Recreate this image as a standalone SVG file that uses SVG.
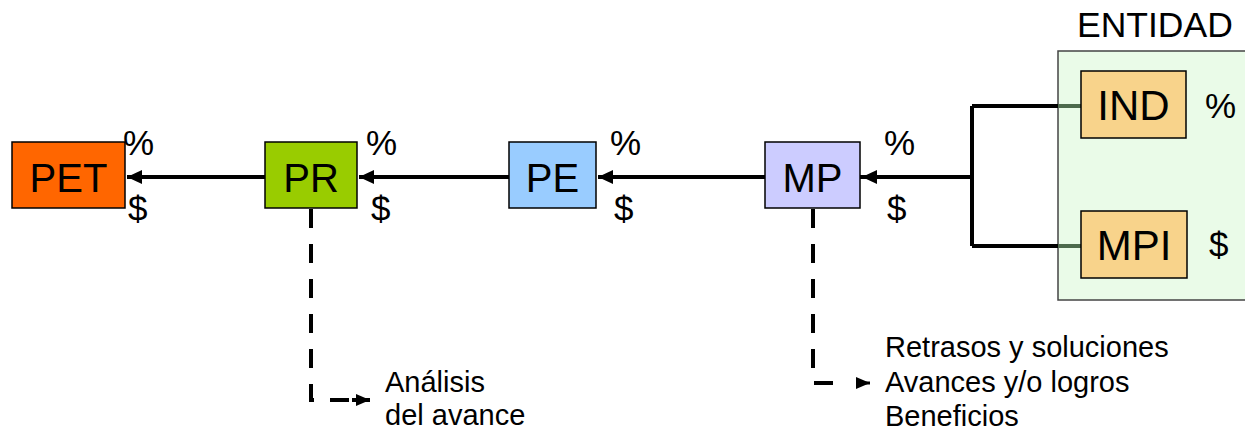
<svg xmlns="http://www.w3.org/2000/svg" width="1245" height="431" viewBox="0 0 1245 431">
<style>
text{font-family:"Liberation Sans",Arial,sans-serif;fill:#000}
.box{stroke:#000;stroke-width:1.5}
.lbl{font-size:40px;text-anchor:middle}
.sym{font-size:35px}
.note{font-size:29px}
.ln{fill:none;stroke:#000;stroke-width:4}
.dash{fill:none;stroke:#000;stroke-width:4;stroke-dasharray:19 16}
</style>
<defs>
<marker id="ah" markerWidth="15" markerHeight="14" refX="15" refY="7" orient="auto" markerUnits="userSpaceOnUse">
<path d="M0,0 L15,7 L0,14 Z" fill="#000"/>
</marker>
<marker id="ahs" markerWidth="14" markerHeight="12" refX="14" refY="6" orient="auto" markerUnits="userSpaceOnUse">
<path d="M0,0 L14,6 L0,12 Z" fill="#000"/>
</marker>
</defs>
<g id="entidad">
<rect x="1058" y="51" width="200" height="249" fill="#EAFBE8" stroke="#444" stroke-width="1.5"/>
<text x="1077" y="37" style="font-size:35.5px">ENTIDAD</text>
</g>
<g id="connectors">
<path class="ln" d="M860,177 H972 M972,106 V246" />
<path class="ln" d="M972,106 H1058 M972,246 H1058"/>
<path d="M1058,106 H1081 M1058,246 H1081" fill="none" stroke="#4d6a4d" stroke-width="4"/>
<line class="ln" x1="972" y1="177" x2="862" y2="177" marker-end="url(#ah)"/>
<line class="ln" x1="765" y1="177" x2="598" y2="177" marker-end="url(#ah)"/>
<line class="ln" x1="509" y1="177" x2="359" y2="177" marker-end="url(#ah)"/>
<line class="ln" x1="265" y1="177" x2="127" y2="177" marker-end="url(#ah)"/>
<path class="dash" d="M311,209 V400 H356"/>
<path d="M352,400 H370" stroke="#000" stroke-width="4" marker-end="url(#ahs)"/>
<path class="dash" d="M813,209 V383 H836"/>
<path d="M856,383 H870" stroke="#000" stroke-width="3" marker-end="url(#ahs)"/>
</g>
<g id="PET">
<rect class="box" x="12" y="142" width="113" height="66" fill="#FF6600"/>
<text class="lbl" x="68.5" y="192">PET</text>
<text class="sym" x="123" y="155">%</text>
<text class="sym" x="128" y="221">$</text>
</g>
<g id="PR">
<rect class="box" x="265" y="142" width="92" height="66" fill="#99CC00"/>
<text class="lbl" x="311" y="192">PR</text>
<text class="sym" x="366" y="155">%</text>
<text class="sym" x="371" y="221">$</text>
</g>
<g id="PE">
<rect class="box" x="509" y="142" width="87" height="66" fill="#99CCFF"/>
<text class="lbl" x="552.5" y="192">PE</text>
<text class="sym" x="610" y="155">%</text>
<text class="sym" x="614" y="221">$</text>
</g>
<g id="MP">
<rect class="box" x="765" y="142" width="95" height="66" fill="#CCCCFF"/>
<text class="lbl" x="812.5" y="192">MP</text>
<text class="sym" x="884" y="155">%</text>
<text class="sym" x="887" y="221">$</text>
</g>
<g id="IND">
<rect class="box" x="1081" y="71" width="105" height="67" fill="#F8D38B"/>
<text class="lbl" x="1133.5" y="120" style="font-size:42px">IND</text>
<text class="sym" x="1205" y="118">%</text>
</g>
<g id="MPI">
<rect class="box" x="1081" y="211" width="106" height="67" fill="#F8D38B"/>
<text class="lbl" x="1134" y="260" style="font-size:42px">MPI</text>
<text class="sym" x="1209" y="257">$</text>
</g>
<g id="analisis">
<text class="note" x="385" y="392">Análisis</text>
<text class="note" x="385" y="425">del avance</text>
</g>
<g id="resultados">
<text class="note" x="885" y="357">Retrasos y soluciones</text>
<text class="note" x="885" y="392">Avances y/o logros</text>
<text class="note" x="885" y="426">Beneficios</text>
</g>
</svg>
